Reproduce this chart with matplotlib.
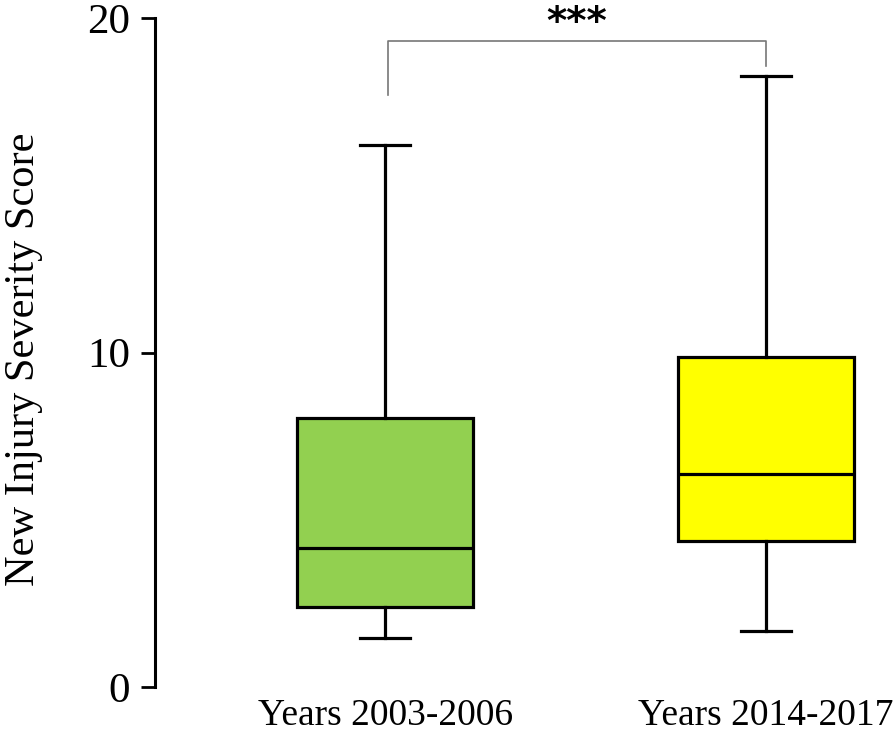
import matplotlib
matplotlib.use("Agg")
import matplotlib.pyplot as plt

categories = ["Years 2003-2006", "Years 2014-2017"]
whislo = [1.46, 1.67]
q1 = [2.39, 4.36]
med = [4.16, 6.37]
q3 = [8.04, 9.87]
whishi = [16.2, 18.27]
colors = ["#92D050", "#FFFF00"]
yticks = [0, 10, 20]
sig_label = "***"

plt.rcParams['font.family'] = ['Liberation Serif', 'DejaVu Serif']

fig = plt.figure(figsize=(8.94, 7.33), dpi=100)
ax = fig.add_axes([155/894, 1-687/733, 1-155/894, (687-18)/733])

stats = []
for i, c in enumerate(categories):
    stats.append(dict(label=c, whislo=whislo[i], q1=q1[i], med=med[i],
                      q3=q3[i], whishi=whishi[i], fliers=[]))
lw = 2.3
bp = ax.bxp(stats, positions=[1, 2], widths=0.462, patch_artist=True,
            showfliers=False,
            boxprops=dict(linewidth=lw, edgecolor="black"),
            medianprops=dict(linewidth=lw, color="black"),
            whiskerprops=dict(linewidth=lw, color="black"),
            capprops=dict(linewidth=lw, color="black"),
            capwidths=0.13)
for patch, col in zip(bp['boxes'], colors):
    patch.set_facecolor(col)

ax.set_xlim(0.396, 2.336)
ax.set_ylim(0, 20)
ax.set_yticks(yticks)
ax.set_yticklabels([str(t) for t in yticks], fontsize=31)
ax.tick_params(axis='y', direction='out', length=10, width=2, pad=8)
ax.tick_params(axis='x', length=0, labelsize=27, pad=8)
for s in ['top', 'right', 'bottom']:
    ax.spines[s].set_visible(False)
ax.spines['left'].set_linewidth(2.2)
ax.set_ylabel("New Injury Severity Score", fontsize=30.5)
ax.yaxis.set_label_coords(-0.152, 0.49)

# significance bracket
y_top = 19.31
ax.plot([1.008, 1.008, 2.0, 2.0], [17.7, y_top, y_top, 18.57],
        color="#777777", linewidth=1.2, clip_on=False)
ax.text(1.504, 19.52, sig_label, ha='center', va='baseline', fontsize=28,
        fontweight='bold', family='DejaVu Sans', clip_on=False)

fig.savefig("out.png", dpi=100)
